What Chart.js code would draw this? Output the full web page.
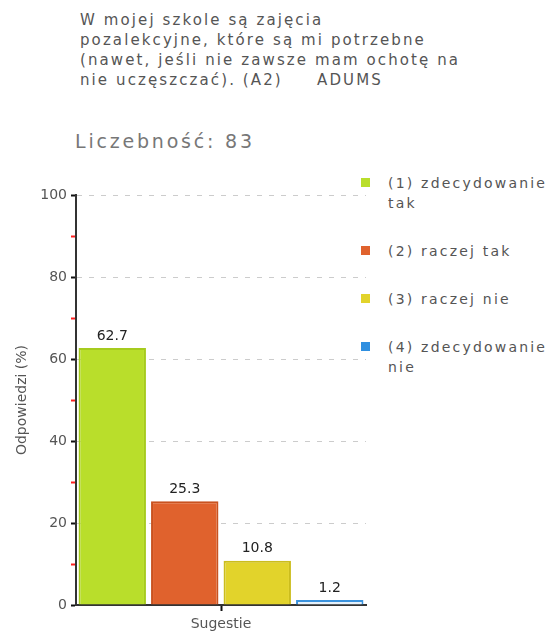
<!DOCTYPE html>
<html>
<head>
<meta charset="utf-8">
<script src="https://cdn.jsdelivr.net/npm/chart.js@4.4.0/dist/chart.umd.min.js"></script>
<style>
  html, body { margin: 0; padding: 0; background: #fff; }
  body { width: 548px; height: 635px; position: relative; overflow: hidden; font-family: "DejaVu Sans", sans-serif; }
  #title { position: absolute; left: 80px; top: 10px; font-size: 15px; line-height: 20px; color: #555; letter-spacing: 2.1px; white-space: nowrap; }
  #count { position: absolute; left: 75px; top: 130px; font-size: 19px; color: #777; letter-spacing: 2.8px; white-space: nowrap; }
  #legend { position: absolute; left: 361px; top: 173px; width: 192px; }
  .item { position: relative; padding-left: 27px; font-size: 14px; line-height: 20px; color: #555; letter-spacing: 2.2px; margin-bottom: 28px; }
  .item span { position: absolute; left: 0; top: 5px; width: 9px; height: 9px; }
  #wrap { position: absolute; left: 0; top: 0; width: 548px; height: 635px; }
</style>
</head>
<body>
<div id="title">W mojej szkole są zajęcia<br>pozalekcyjne, które są mi potrzebne<br>(nawet, jeśli nie zawsze mam ochotę na<br>nie uczęszczać). (A2) &nbsp;&nbsp;&nbsp; ADUMS</div>
<div id="count">Liczebność: 83</div>
<div id="legend"></div>
<div id="wrap"><canvas id="myChart" width="548" height="635"></canvas></div>
<script>
const categories = ['Sugestie'];
const seriesNames = ['(1) zdecydowanie tak', '(2) raczej tak', '(3) raczej nie', '(4) zdecydowanie nie'];
const seriesValues = [62.7, 25.3, 10.8, 1.2];
const fillColors = ['#b9de2b', '#e0622d', '#e2d32b', '#e4f0fa'];
const edgeColors = ['#a6cb1e', '#c9521f', '#cbbd1d', '#3a92dd'];
const legendColors = ['#b9de2b', '#e0622d', '#e2d32b', '#2f8fe0'];
const yTicks = [0, 20, 40, 60, 80, 100];

document.addEventListener('DOMContentLoaded', () => {
    const valueLabels = {
        id: 'valueLabels',
        afterDatasetsDraw(chart) {
            const ctx = chart.ctx;
            ctx.save();
            ctx.font = '14px "DejaVu Sans"';
            ctx.fillStyle = '#222';
            ctx.textAlign = 'center';
            ctx.textBaseline = 'bottom';
            chart.data.datasets.forEach((ds, i) => {
                const bar = chart.getDatasetMeta(i).data[0];
                ctx.fillText(ds.data[0].toFixed(1), bar.x, bar.y - 5);
            });
            ctx.restore();
        }
    };

    const ctx = document.getElementById('myChart').getContext('2d');
    const myChart = new Chart(ctx, {
        type: 'bar',
        data: {
            labels: categories,
            datasets: seriesNames.map((name, i) => ({
                label: name,
                data: [seriesValues[i]],
                backgroundColor: fillColors[i],
                borderColor: edgeColors[i],
                borderWidth: 2,
                barPercentage: 0.93,
                categoryPercentage: 1
            }))
        },
        options: {
            responsive: false,
            animation: false,
            layout: { padding: { top: 195, right: 182, left: 0, bottom: 0 } },
            plugins: {
                legend: { display: false },
                tooltip: { enabled: false }
            },
            scales: {
                x: {
                    afterFit: (scale) => { scale.height = 30; },
                    grid: { offset: false, drawOnChartArea: false, tickLength: 6, tickColor: '#111', tickWidth: 2 },
                    border: { color: '#333', width: 2 },
                    ticks: { color: '#555', font: { family: 'DejaVu Sans', size: 14 }, padding: 5 }
                },
                y: {
                    min: 0,
                    max: 100,
                    afterFit: (scale) => { scale.width = 76; },
                    afterBuildTicks: (scale) => {
                        const t = [];
                        for (let v = 0; v <= 100; v += 10) t.push({ value: v });
                        scale.ticks = t;
                    },
                    grid: {
                        color: (c) => (c.tick && c.tick.value % 20 === 0 && c.tick.value > 0) ? '#cccccc' : 'rgba(0,0,0,0)',
                        tickColor: (c) => (c.tick && c.tick.value % 20 === 0) ? '#111' : '#ff2020',
                        tickLength: 5,
                        tickWidth: 2
                    },
                    border: { color: '#333', width: 2, dash: [5, 7] },
                    ticks: {
                        color: '#555',
                        font: { family: 'DejaVu Sans', size: 14 },
                        padding: 4,
                        callback: (v) => yTicks.includes(v) ? String(v) : ''
                    },
                    title: {
                        display: true,
                        text: 'Odpowiedzi (%)',
                        color: '#555',
                        font: { family: 'DejaVu Sans', size: 14 },
                        padding: { top: 14 }
                    }
                }
            }
        },
        plugins: [valueLabels]
    });

    const legend = document.getElementById('legend');
    seriesNames.forEach((name, i) => {
        const d = document.createElement('div');
        d.className = 'item';
        d.innerHTML = '<span style="background:' + legendColors[i] + '"></span>' + name;
        legend.appendChild(d);
    });
});
</script>
</body>
</html>
